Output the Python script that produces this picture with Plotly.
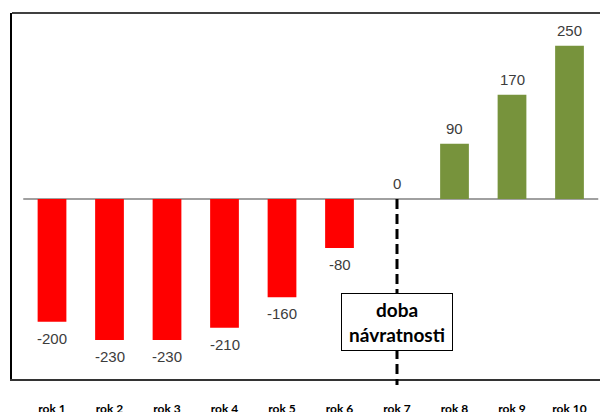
import plotly.graph_objects as go

categories = ["rok 1", "rok 2", "rok 3", "rok 4", "rok 5", "rok 6", "rok 7", "rok 8", "rok 9", "rok 10"]
values = [-200, -230, -230, -210, -160, -80, 0, 90, 170, 250]
payback_label = "doba<br>návratnosti"
payback_index = 6

colors = ["#FF0000" if v < 0 else "#77933C" for v in values]
xs = list(range(len(categories)))

W, H = 600, 412
ml, mr, mt, mb = 12, 0, 13, 33
pw = W - ml - mr
ph = H - mt - mb
step = 57.5
x0 = -(52 - ml) / step
x1 = x0 + pw / step
yscale = 0.6135
ytop = (199 - mt) / yscale
ybot = -(H - mb - 199) / yscale

fig = go.Figure()
fig.add_trace(go.Bar(
    x=xs, y=values,
    marker=dict(color=colors, line=dict(width=0)),
    width=0.5,
    cliponaxis=False,
))

# value labels
for xi, v in zip(xs, values):
    neg = v < 0
    fig.add_annotation(x=xi, y=v, xref="x", yref="y", text=str(v), showarrow=False,
                       yanchor="top" if neg else "bottom", yshift=-6 if neg else 5,
                       font=dict(family="Liberation Sans, Arial", size=15, color="#3c3c3c"))

# zero line
fig.add_shape(type="line", xref="x", yref="y", x0=-0.5, x1=len(categories) - 0.5, y0=0, y1=0,
              line=dict(color="#808080", width=1.5), layer="below")
# top frame line
fig.add_shape(type="line", xref="paper", yref="paper", x0=0, x1=1, y0=1, y1=1,
              line=dict(color="#000000", width=1.5))
# dashed payback line
px = (payback_index - x0) / (x1 - x0)
fig.add_shape(type="line", xref="paper", yref="paper", x0=px, x1=px,
              y0=(0 - ybot) / (ytop - ybot), y1=-6 / ph,
              line=dict(color="#000000", width=3, dash="10px,5px"))

fig.add_annotation(x=payback_index, y=(199 - 322) / yscale, xref="x", yref="y",
                   text="<b>" + payback_label + "</b>", showarrow=False,
                   font=dict(family="Lato", size=19, color="#000000"),
                   bgcolor="#FFFFFF", bordercolor="#000000", borderwidth=1,
                   width=108, height=54, align="center")

fig.update_layout(
    width=W, height=H,
    margin=dict(l=ml, r=mr, t=mt, b=mb, pad=0, autoexpand=False),
    plot_bgcolor="#FFFFFF", paper_bgcolor="#FFFFFF",
    showlegend=False,
    xaxis=dict(range=[x0, x1], tickmode="array", tickvals=xs,
               ticktext=["<b>" + c + "</b>" for c in categories],
               tickfont=dict(family="Lato", size=12, color="#000000"),
               showline=True, linecolor="#333333", linewidth=1.5, automargin=False,
               showgrid=False, zeroline=False, ticks="", ticklabelstandoff=18),
    yaxis=dict(range=[ybot, ytop], showticklabels=False, showgrid=False, zeroline=False,
               automargin=False,
               showline=True, linecolor="#000000", linewidth=1.5, ticks=""),
)

fig.write_html("out.html", config={"displayModeBar": False},
               post_script="document.body.style.margin='0';document.body.style.overflow='hidden';")
